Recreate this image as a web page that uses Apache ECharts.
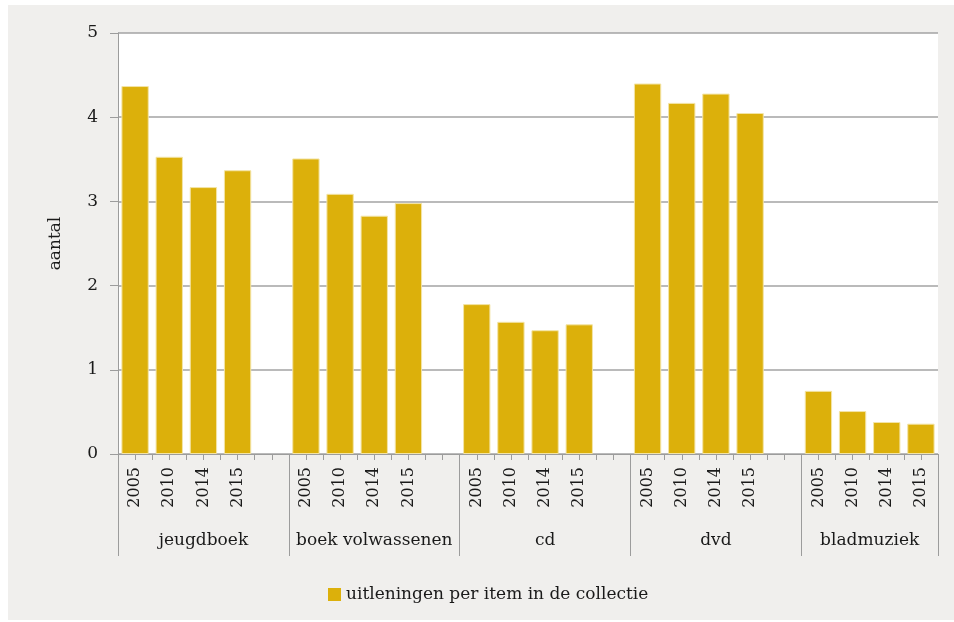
<!DOCTYPE html>
<html>
<head>
<meta charset="utf-8">
<script src="https://cdn.jsdelivr.net/npm/echarts@6/dist/echarts.min.js"></script>
<style>
html,body{margin:0;padding:0;background:#ffffff;}
#bg{position:absolute;left:8px;top:5px;width:946px;height:615px;background:#f0efed;}
#chart{position:absolute;left:0;top:0;width:954px;height:622px;}
</style>
</head>
<body>
<div id="bg"></div>
<div id="chart"></div>
<script>
// ---- data ----
const groups = ['jeugdboek', 'boek volwassenen', 'cd', 'dvd', 'bladmuziek'];
const years = ['2005', '2010', '2014', '2015'];
const jeugdboek = [4.37, 3.53, 3.17, 3.37];
const boekVolwassenen = [3.51, 3.09, 2.83, 2.98];
const cd = [1.78, 1.57, 1.47, 1.54];
const dvd = [4.40, 4.17, 4.28, 4.05];
const bladmuziek = [0.75, 0.51, 0.38, 0.36];
const yTicks = [0, 1, 2, 3, 4, 5];
const seriesName = 'uitleningen per item in de collectie';

// ---- build slots (4 years + 1 empty gap between groups) ----
const groupValues = [jeugdboek, boekVolwassenen, cd, dvd, bladmuziek];
const slotLabels = [];
const slotValues = [];
const groupCenters = {}; // in half-slot units -> name
groupValues.forEach((vals, gi) => {
  const start = slotLabels.length;
  years.forEach((y, i) => { slotLabels.push(y); slotValues.push(vals[i]); });
  const last = gi === groupValues.length - 1;
  if (!last) { slotLabels.push(''); slotValues.push('-'); }
  const width = last ? 4 : 5;
  groupCenters[Math.round((start + width / 2) * 2)] = groups[gi];
});
const nSlots = slotLabels.length;
const halfSlots = [];
for (let i = 0; i < nSlots * 2; i++) halfSlots.push(String(i));
const groupStarts = [];
{ let idx = 0; groupValues.forEach((v, gi) => { groupStarts.push(idx); idx += (gi === groupValues.length - 1) ? 4 : 5; }); }

const FONT = 'DejaVu Serif';
const TXT = '#1a1a1a';
const GRAY = '#9c9c9c';

const chart = echarts.init(document.getElementById('chart'), null, {renderer: 'canvas'});
chart.setOption({
  backgroundColor: 'transparent',
  animation: false,
  textStyle: {fontFamily: FONT, color: TXT},
  grid: {left: 118, right: 16, top: 33, bottom: 168, show: true, backgroundColor: '#ffffff', borderWidth: 0},
  legend: {
    data: [seriesName], left: 323, top: 581, icon: 'rect', itemWidth: 13, itemHeight: 13, itemGap: 6,
    itemStyle: {borderWidth: 0},
    textStyle: {fontFamily: FONT, fontSize: 17, color: TXT}
  },
  xAxis: [
    { // year labels
      type: 'category', data: slotLabels, position: 'bottom',
      axisLine: {show: true, lineStyle: {color: GRAY, width: 1}},
      axisTick: {show: false},
      axisLabel: {rotate: 90, margin: 13, fontFamily: FONT, fontSize: 16, color: TXT, interval: 0}
    },
    { // small ticks every half slot
      type: 'category', data: halfSlots, position: 'bottom',
      axisLine: {show: false},
      axisTick: {show: true, length: 6, interval: 0, lineStyle: {color: GRAY}},
      axisLabel: {show: false}
    },
    { // group separators
      type: 'category', data: slotLabels.map((d, i) => String(i)), position: 'bottom',
      axisLine: {show: false},
      axisTick: {show: true, length: 102, lineStyle: {color: GRAY},
        interval: function (idx) { return groupStarts.indexOf(idx) >= 0; }},
      axisLabel: {show: false}
    },
    { // group labels
      type: 'value', min: 0, max: nSlots, interval: 0.5, position: 'bottom',
      axisLine: {show: false}, axisTick: {show: false}, splitLine: {show: false},
      axisLabel: {
        show: true, margin: 78, fontFamily: FONT, fontSize: 17, color: TXT,
        showMinLabel: true, showMaxLabel: true,
        formatter: function (v) { return groupCenters[Math.round(v * 2)] || ''; }
      }
    }
  ],
  yAxis: {
    type: 'value', min: yTicks[0], max: yTicks[yTicks.length - 1], interval: 1,
    name: 'aantal', nameLocation: 'middle', nameRotate: 90, nameGap: 54,
    nameTextStyle: {fontFamily: FONT, fontSize: 17, color: TXT},
    axisLine: {show: true, lineStyle: {color: GRAY, width: 1}},
    axisTick: {show: true, length: 8, lineStyle: {color: GRAY}},
    axisLabel: {margin: 20, fontFamily: FONT, fontSize: 17, color: TXT},
    splitLine: {show: true, lineStyle: {color: '#a3a3a3', width: 1.5}}
  },
  series: [{
    name: seriesName, type: 'bar', xAxisIndex: 0, data: slotValues,
    barCategoryGap: '20%',
    itemStyle: {color: '#dcb00b', borderColor: '#f3e4a6', borderWidth: 1}
  }]
});
</script>
</body>
</html>
